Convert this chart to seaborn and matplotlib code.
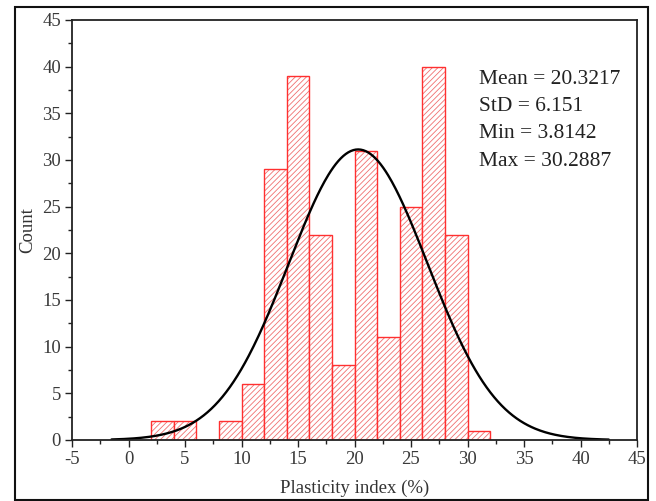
import numpy as np
import pandas as pd
import matplotlib
matplotlib.use("Agg")
import matplotlib.pyplot as plt
from matplotlib.patches import Rectangle
from matplotlib.ticker import MultipleLocator
import seaborn as sns

# ---- data ----
bin_edges = [2, 4, 6, 8, 10, 12, 14, 16, 18, 20, 22, 24, 26, 28, 30, 32]
counts = [2, 2, 0, 2, 6, 29, 39, 22, 8, 31, 11, 25, 40, 22, 1]
mean_val = 20.3217
std_val = 6.151
min_val = 3.8142
max_val = 30.2887
x_ticks = [-5, 0, 5, 10, 15, 20, 25, 30, 35, 40, 45]
y_ticks = [0, 5, 10, 15, 20, 25, 30, 35, 40, 45]
x_label = "Plasticity index (%)"
y_label = "Count"

sns.set_theme(style="white")
plt.rcParams['font.family'] = ['Liberation Serif', 'DejaVu Serif']
plt.rcParams['axes.unicode_minus'] = False
plt.rcParams['hatch.linewidth'] = 0.6

centers = [(a + b) / 2 for a, b in zip(bin_edges[:-1], bin_edges[1:])]
df = pd.DataFrame({"x": centers, "w": counts})

fig = plt.figure(figsize=(6.56, 5.01), dpi=100)
ax = fig.add_axes([72 / 656, 61 / 501, (637 - 72) / 656, (440 - 20) / 501])

sns.histplot(data=df, x="x", weights="w", bins=bin_edges, ax=ax,
             color="white", edgecolor="#ff3030", linewidth=1.0, alpha=1.0)
for p in ax.patches:
    p.set_facecolor("white")
    p.set_edgecolor("#ff3030")
    p.set_hatch("//////")
    p._hatch_color = matplotlib.colors.to_rgba("#f07070")

# fitted normal curve scaled to counts
total = sum(counts)
bw = bin_edges[1] - bin_edges[0]
xs = np.linspace(-1.5, 42.5, 400)
ys = total * bw / (std_val * np.sqrt(2 * np.pi)) * np.exp(-0.5 * ((xs - mean_val) / std_val) ** 2)
sns.lineplot(x=xs, y=ys, ax=ax, color="black", linewidth=1.7)

ax.set_xlim(-5, 45)
ax.set_ylim(0, 45)
ax.set_xticks(x_ticks)
ax.set_yticks(y_ticks)
ax.xaxis.set_minor_locator(MultipleLocator(2.5))
ax.yaxis.set_minor_locator(MultipleLocator(2.5))
ax.tick_params(which="major", direction="out", length=5, width=1.0, labelsize=13.5,
               bottom=True, left=True, top=False, right=False, pad=3, colors="#222222")
ax.tick_params(which="minor", direction="out", length=3, width=1.0,
               bottom=True, left=True, top=False, right=False, colors="#222222")
for lab in ax.get_xticklabels() + ax.get_yticklabels():
    lab.set_color("#3a3a3a")
for s in ax.spines.values():
    s.set_visible(True)
    s.set_color("#222222")
    s.set_linewidth(1.3)

ax.set_xlabel(x_label, fontsize=13.5, color="#333333", labelpad=8)
ax.set_ylabel(y_label, fontsize=13.5, color="#333333", labelpad=4)

stats_text = (f"Mean = {mean_val}\nStD = {std_val}\n"
              f"Min = {min_val}\nMax = {max_val}")
ax.text(0.72, 0.882, stats_text, transform=ax.transAxes, fontsize=15.5,
        va="top", ha="left", linespacing=1.6, color="#222222")

# outer frame around the figure
fig.patches.append(Rectangle((15 / 656, 0.002), (648 - 15) / 656, (494) / 501 - 0.002,
                             transform=fig.transFigure, fill=False,
                             edgecolor="#111111", linewidth=1.5))

fig.savefig("out.png", dpi=100)
